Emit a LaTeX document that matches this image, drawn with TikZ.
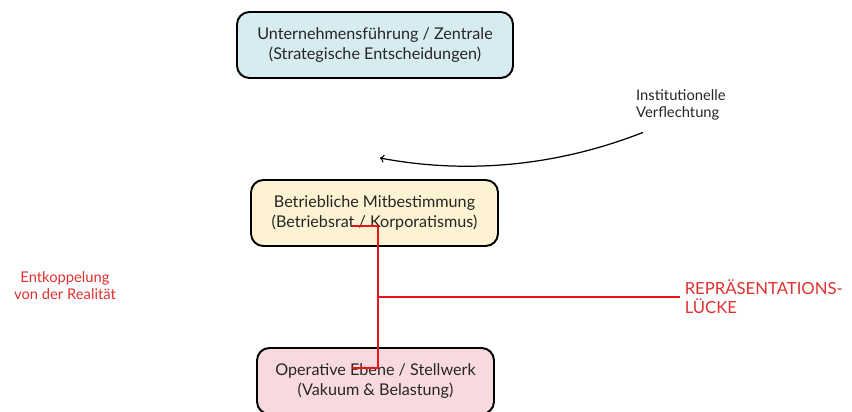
\documentclass[tikz,border=0pt]{standalone}
\usepackage{fontspec}
\setmainfont{Lato}
\usetikzlibrary{arrows,positioning}
\definecolor{topfill}{HTML}{D6ECF0}
\definecolor{midfill}{HTML}{FDF2D2}
\definecolor{botfill}{HTML}{F8DADE}
\definecolor{gapred}{HTML}{E8141B}
\definecolor{labred}{HTML}{E0302F}

\begin{document}
\begin{tikzpicture}[x=0.02cm,y=-0.02cm]
\tikzstyle{box}=[draw=black, line width=1.1pt, rounded corners=7pt, align=center, minimum height=1.32cm, text=black!85, font=\fontsize{9.2}{11.4}\selectfont]
\tikzstyle{gap}=[draw=gapred, line width=1.6pt]
\tikzstyle{note}=[align=left, text=black!85, font=\fontsize{8.4}{9.6}\selectfont]

\useasboundingbox (0,0) rectangle (852,412);

 \node[box, fill=topfill, minimum width=5.52cm] (top) at (375,45) {Unternehmensführung / Zentrale\\(Strategische Entscheidungen)};
 \node[box, fill=midfill, minimum width=4.94cm] (mid) at (374.5,213) {Betriebliche Mitbestimmung\\(Betriebsrat / Korporatismus)};
 \node[box, fill=botfill, minimum width=4.74cm] (bot) at (375.5,381) {Operative Ebene / Stellwerk\\(Vakuum \& Belastung)};

 \node[note, anchor=west] (verf) at (630,105) {Institutionelle\\Verflechtung};
 \node[note, align=center, text=labred] (entk) at (65,286) {Entkoppelung\\von der Realität};
 \node[anchor=west, align=left, text=labred, inner sep=2.5pt, font=\fontsize{9.5}{10.8}\selectfont] (luecke) at (680,297) {REPRÄSENTATIONS-\\LÜCKE};

 % Bruch zwischen Mitbestimmung und Stellwerk
 \coordinate (rtop) at (352,226);
 \coordinate (rjoin) at (378,297);
 \coordinate (rbot) at (352,368);
 \draw[gap] (rtop) -| (rjoin) |- (rbot);
 \draw[gap] (rjoin) -- (luecke.west);

 \coordinate (fuse) at (380,158);
 \draw[->, line width=0.7pt] ([xshift=0.26cm,yshift=-0.12cm]verf.south west) .. controls (560,165) and (470,175) .. (fuse);
\end{tikzpicture}
\end{document}
